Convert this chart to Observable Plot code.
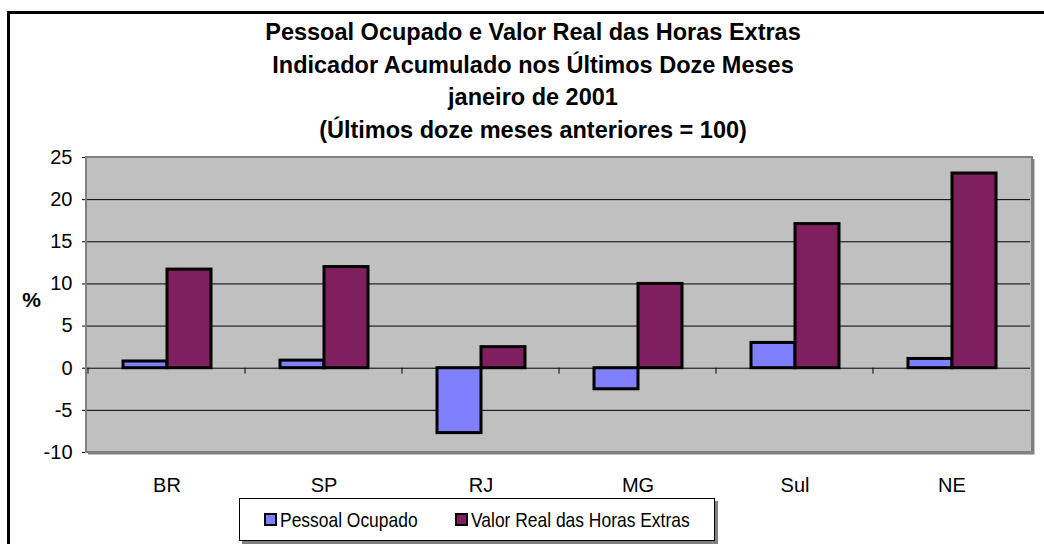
<!DOCTYPE html>
<html>
<head>
<meta charset="utf-8">
<script src="https://cdn.jsdelivr.net/npm/d3@7"></script>
<script src="https://cdn.jsdelivr.net/npm/@observablehq/plot@0.6"></script>
<style>
  html, body { margin: 0; padding: 0; width: 1044px; height: 544px; overflow: hidden; background: #fff; }
  body { position: relative; font-family: "Liberation Sans", Arial, sans-serif; color: #000; }
  #outer { position: absolute; left: 7px; top: 11px; width: 1100px; height: 600px; border: 3px solid #000; box-sizing: border-box; }
  #title { position: absolute; left: 0; top: 16px; width: 1066px; text-align: center; font-weight: bold; font-size: 23.5px; line-height: 32.5px; }
  #chart { position: absolute; left: 0; top: 135px; }
  #legend { position: absolute; left: 239px; top: 498px; width: 476px; height: 43px; box-sizing: border-box; border: 1px solid #000; background: #fff; box-shadow: 3px 3px 0 #808080; display: flex; align-items: center; justify-content: center; font-size: 21px; }
  .item { display: flex; align-items: center; }
  .sw { width: 9px; height: 9px; border: 2px solid #000; margin-right: 3px; }
  .lt { display: inline-block; transform: scaleX(0.83); transform-origin: left center; white-space: nowrap; }
</style>
</head>
<body>
<div id="outer"></div>
<div id="title">Pessoal Ocupado e Valor Real das Horas Extras<br>Indicador Acumulado nos Últimos Doze Meses<br>janeiro de 2001<br>(Últimos doze meses anteriores = 100)</div>
<div id="chart"></div>
<div id="legend"></div>
<script>
const categories = ["BR", "SP", "RJ", "MG", "Sul", "NE"];
const seriesNames = ["Pessoal Ocupado", "Valor Real das Horas Extras"];
const pessoalOcupado = [0.8, 0.9, -7.7, -2.5, 3.0, 1.1];
const valorReal = [11.7, 12.0, 2.5, 10.0, 17.1, 23.1];
const yTicks = [-10, -5, 0, 5, 10, 15, 20, 25];
const gridTicks = [-5, 5, 10, 15, 20];
const seriesColors = ["#8080FF", "#801F60"];

const table = [];
categories.forEach((c, i) => {
  table.push({cat: c, series: seriesNames[0], value: pessoalOcupado[i]});
  table.push({cat: c, series: seriesNames[1], value: valorReal[i]});
});

const W = 1044, H = 360, mT = 22, mB = 43, mL = 86, mR = 12;

const chart = Plot.plot({
  width: W, height: H, marginTop: mT, marginBottom: mB, marginLeft: mL, marginRight: mR,
  style: {fontFamily: "'Liberation Sans', Arial, sans-serif", fontSize: "20px", color: "#000", background: "transparent", overflow: "visible"},
  fx: {domain: categories, paddingInner: 0, paddingOuter: 0, label: null, axis: null},
  x: {domain: seriesNames, paddingInner: 0, paddingOuter: 0.75, axis: null},
  y: {domain: [-10, 25], label: null, axis: null},
  color: {domain: seriesNames, range: seriesColors},
  marks: [
    Plot.ruleY(gridTicks, {stroke: "#000", strokeWidth: 1}),
    Plot.ruleY([0], {stroke: "#000", strokeWidth: 1}),
    Plot.barY(table, {fx: "cat", x: "series", y: "value", fill: "series", stroke: "#000", strokeWidth: 3}),
    Plot.axisFx({anchor: "bottom", tickSize: 0, tickPadding: 25, label: null, fontSize: 20}),
    Plot.axisY({ticks: yTicks, tickFormat: d => String(d), tickSize: 6, tickPadding: 10, label: null, fontSize: 20, stroke: "#000"}),
    Plot.text([{cat: "BR", label: "%"}], {fx: "cat", text: "label", frameAnchor: "left", textAnchor: "middle", dx: -57, dy: -5, fontWeight: "bold", fontSize: 21})
  ]
});
document.getElementById("chart").appendChild(chart);

// plot-area background, border, shadow and category tick marks
const svg = d3.select(chart);
const fx = chart.scale("fx");
const y = chart.scale("y");
const x0 = mL, x1 = W - mR, y0 = mT, y1 = H - mB;
svg.insert("rect", "g").attr("x", x0).attr("y", y0).attr("width", x1 - x0).attr("height", y1 - y0).attr("fill", "#C0C0C0");
const zy = y.apply(0);
const bounds = categories.map(c => fx.apply(c)).concat([x1]);
const tg = svg.append("g").attr("stroke", "#000").attr("stroke-width", 1);
bounds.forEach(b => tg.append("line").attr("x1", b).attr("x2", b).attr("y1", zy).attr("y2", zy + 6));
svg.append("rect").attr("x", x0).attr("y", y0).attr("width", x1 - x0).attr("height", y1 - y0)
  .attr("fill", "none").attr("stroke", "#808080").attr("stroke-width", 2);
svg.append("path").attr("d", `M${x0 + 2},${y1 + 1.5}H${x1 + 1.5}V${y0 + 2}`).attr("fill", "none").attr("stroke", "#808080").attr("stroke-width", 2);

// legend
const legend = d3.select("#legend");
seriesNames.forEach((s, i) => {
  const it = legend.append("div").attr("class", "item").style("margin-right", i === 0 ? "38px" : "0");
  it.append("div").attr("class", "sw").style("background", seriesColors[i]);
  const sp = it.append("span").attr("class", "lt").text(s);
  const w = sp.node().offsetWidth;
  sp.style("margin-right", (-(w * 0.17)).toFixed(1) + "px");
});
</script>
</body>
</html>
